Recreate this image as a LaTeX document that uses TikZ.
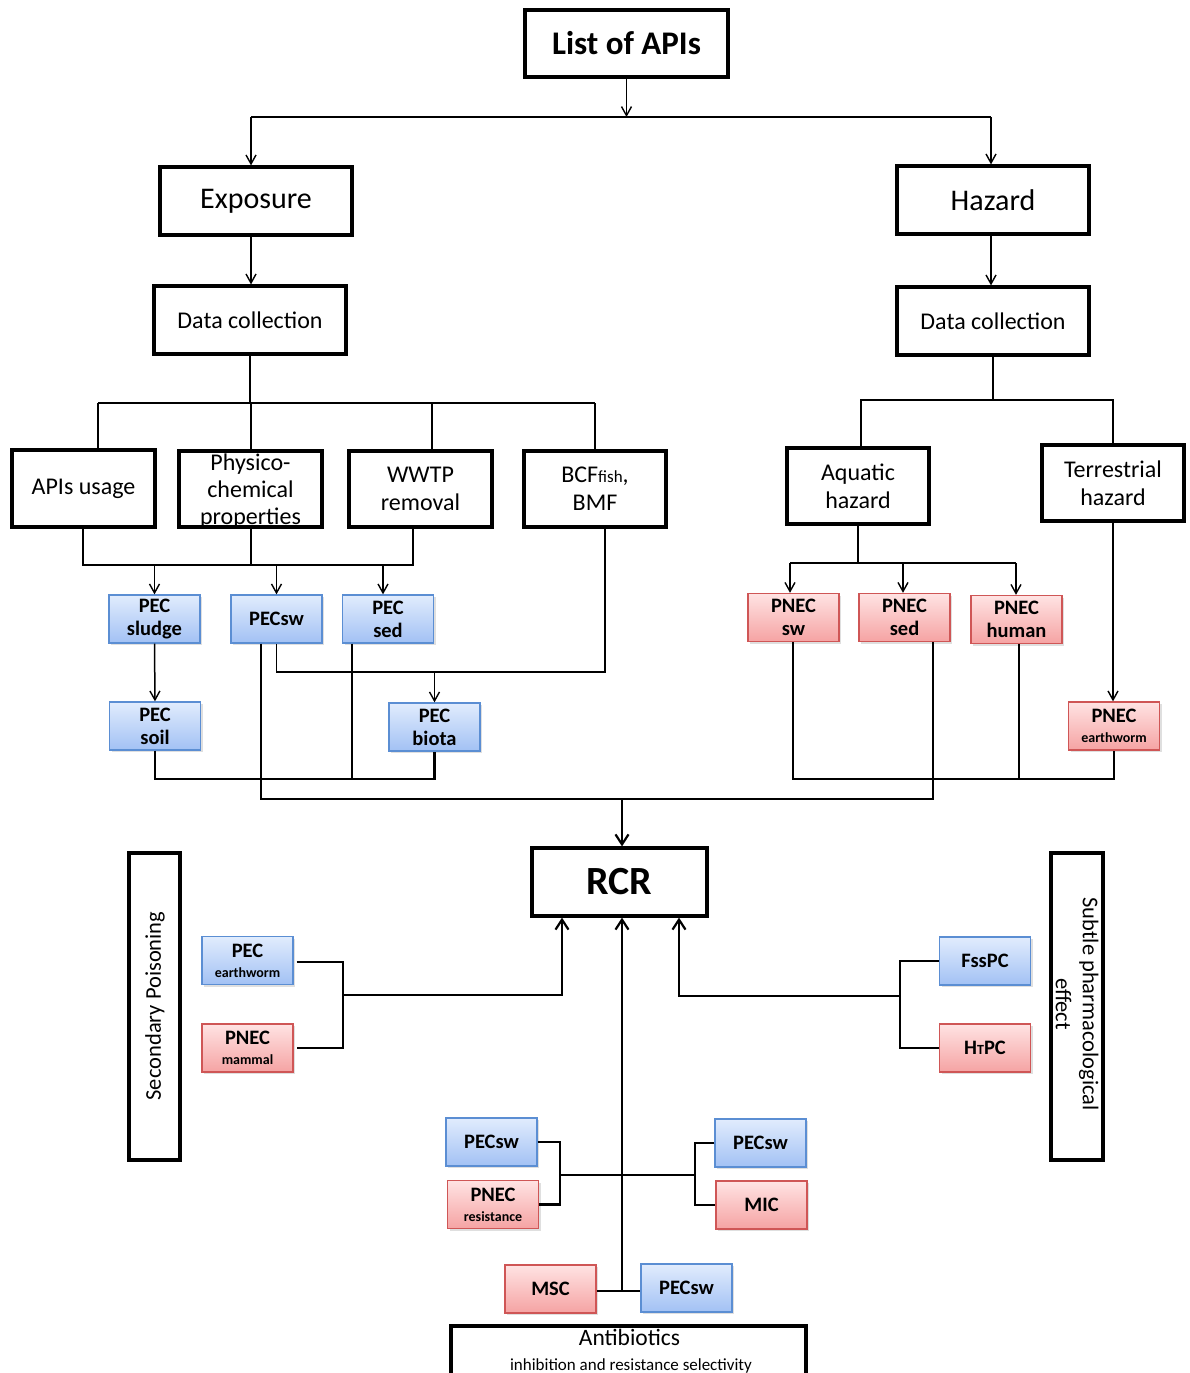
\documentclass[tikz,border=0pt]{standalone}
\usepackage{fontspec}
\setmainfont{Carlito}
\usetikzlibrary{arrows.meta,shadows}
\definecolor{bluetop}{HTML}{E1ECFD}
\definecolor{bluebot}{HTML}{A2C1F4}
\definecolor{blueline}{HTML}{5B8ED3}
\definecolor{redtop}{HTML}{FFE3E3}
\definecolor{redbot}{HTML}{F5A3A3}
\definecolor{redline}{HTML}{CF5656}
\begin{document}
\begin{tikzpicture}[x=1pt,y=-1pt,
  fs/.style 2 args={font=\fontsize{#1}{#2}\selectfont},
  bigbox/.style={draw, line width=3.2pt, inner sep=0pt, align=center},
  smallbox/.style={line width=1.3pt, inner sep=0pt, align=center,
     minimum width=91pt, minimum height=48pt,
     font=\bfseries\fontsize{20.5}{23}\selectfont,
     drop shadow={opacity=0.25,shadow xshift=2pt,shadow yshift=-2pt}},
  bluebox/.style={smallbox, draw=blueline, top color=bluetop, bottom color=bluebot},
  redbox/.style={smallbox, draw=redline, top color=redtop, bottom color=redbot},
  conn/.style={line width=1.5pt},
  tconn/.style={line width=2.4pt},
  arr/.style={-{Straight Barb[length=9pt,width=10pt,line width=1.4pt]}},
  tarr/.style={-{Straight Barb[length=10pt,width=13pt,line width=2.2pt]}}
]
\useasboundingbox (0,0) rectangle (1189,1373);
\clip (0,0) rectangle (1189,1373);

% ---- top boxes
\node[bigbox, minimum width=203pt, minimum height=67pt, font=\bfseries\fontsize{33}{38}\selectfont] (list) at (626.5,43.5) {List of APIs};
\node[bigbox, minimum width=192pt, minimum height=68pt, fs={30}{34}] (expo) at (256,201) {Exposure};
\node[bigbox, minimum width=192pt, minimum height=68pt, fs={30}{34}] (haz) at (993,200) {Hazard};
\node[bigbox, minimum width=192pt, minimum height=68pt, fs={24}{28}] (dcl) at (250,320) {Data collection};
\node[bigbox, minimum width=192pt, minimum height=68pt, fs={24}{28}] (dcr) at (993,321) {Data collection};

% ---- second level
\node[bigbox, minimum width=143pt, minimum height=77pt, fs={24}{28}] (apis) at (83.5,488.5) {APIs usage};
\node[bigbox, minimum width=143pt, minimum height=76pt] (phys) at (250.5,489) {};
\node[fs={24}{27}, align=center, inner sep=0pt] (physt) at (250.5,491) {Physico-\\chemical\\properties};
\node[bigbox, minimum width=143pt, minimum height=76pt, fs={24}{28}] (wwtp) at (420.5,489) {WWTP\\removal};
\node[bigbox, minimum width=142pt, minimum height=76pt, fs={24}{28}] (bcf) at (595,489) {BCF{\fontsize{17}{20}\selectfont fish},\\BMF};
\node[bigbox, minimum width=142pt, minimum height=76pt, fs={24}{28}] (aqua) at (858,486) {Aquatic\\hazard};
\node[bigbox, minimum width=142pt, minimum height=76pt, fs={24}{28}] (terr) at (1113,483) {Terrestrial\\hazard};

% ---- PEC / PNEC boxes
\node[bluebox] (sludge) at (154.5,619) {PEC\\sludge};
\node[bluebox] (pecsw) at (276.5,619) {PECsw};
\node[bluebox] (sed) at (388,619) {PEC\\sed};
\node[bluebox] (soil) at (155,726) {PEC\\soil};
\node[bluebox] (biota) at (434.5,727) {PEC\\biota};
\node[redbox] (pnsw) at (793.5,617.5) {PNEC\\sw};
\node[redbox] (pnsed) at (904.5,617.5) {PNEC\\sed};
\node[redbox] (pnhum) at (1016.5,619.5) {PNEC\\human};
\node[redbox] (pnew) at (1114,726) {PNEC\\[-3pt]{\fontsize{14}{15}\selectfont earthworm}};

% ---- RCR and side panels
\node[bigbox, minimum width=175pt, minimum height=68pt, font=\bfseries\fontsize{40}{44}\selectfont] (rcr) at (619.5,882) {RCR};
\node[bigbox, minimum width=51pt, minimum height=307pt] (secp) at (154.5,1006.5) {};
\node[rotate=90, fs={22.5}{26}, inner sep=0pt] (secpt) at (155,1006) {Secondary Poisoning};
\node[bigbox, minimum width=52pt, minimum height=307pt] (subt) at (1077,1006.5) {};
\node[rotate=-90, fs={22.5}{27}, align=center, inner sep=0pt] (subtt) at (1077,1004) {Subtle pharmacological\\effect};

\node[bluebox] (pecew) at (247.5,960.5) {PEC\\[-3pt]{\fontsize{14}{15}\selectfont earthworm}};
\node[redbox] (pnmam) at (247.5,1048) {PNEC\\[-3pt]{\fontsize{14}{15}\selectfont mammal}};
\node[bluebox] (fss) at (985,961) {FssPC};
\node[redbox] (htpc) at (985,1048) {H{\fontsize{14}{16}\selectfont T}PC};

\node[bluebox] (pecsw2) at (491.5,1142) {PECsw};
\node[redbox] (pnres) at (493,1204.5) {PNEC\\[-3pt]{\fontsize{14}{15}\selectfont resistance}};
\node[bluebox] (pecsw3) at (760.5,1143) {PECsw};
\node[redbox] (mic) at (761.5,1205) {MIC};
\node[redbox] (msc) at (550.5,1289) {MSC};
\node[bluebox] (pecsw4) at (686.5,1288) {PECsw};

\node[bigbox, minimum width=355pt, minimum height=90pt] (anti) at (628.5,1371) {};
\node[fs={23.5}{27}, inner sep=0pt] (antit) at (629.5,1337) {Antibiotics};
\node[fs={17}{20}, inner sep=0pt] (antis) at (631,1366) {inhibition and resistance selectivity};

% ---- top connectors
\coordinate (j1) at (626.5,117);
\coordinate (jl) at (251,117);
\coordinate (jr) at (991,117);
\draw[conn,arr] (list.south) -- (j1);
\draw[conn] (jl) -- (jr);
\draw[conn,arr] (jl) -- (jl |- expo.north);
\draw[conn,arr] (jr) -- (jr |- haz.north);
\draw[conn,arr] (expo.south -| jl) -- (jl |- dcl.north);
\draw[conn,arr] (haz.south -| jr) -- (jr |- dcr.north);

% ---- exposure tree
\coordinate (t1) at (98,403);
\coordinate (t2) at (251,403);
\coordinate (t3) at (432,403);
\coordinate (t4) at (595,403);
\draw[conn] (dcl.south) -- (dcl.south |- t1);
\draw[conn] (t1) -- (t4);
\draw[conn] (t1) -- (t1 |- apis.north);
\draw[conn] (t2) -- (t2 |- phys.north);
\draw[conn] (t3) -- (t3 |- wwtp.north);
\draw[conn] (t4) -- (bcf.north);

\coordinate (b1) at (83,565);
\coordinate (b2) at (251,565);
\coordinate (b3) at (413,565);
\coordinate (b4) at (383,565);
\draw[conn] (b1 |- apis.south) -- (b1) -- (b3) -- (b3 |- wwtp.south);
\draw[conn] (b2 |- phys.south) -- (b2);
\draw[conn,arr] (b1 -| sludge.north) -- (sludge.north);
\draw[conn,arr] (b1 -| pecsw.north) -- (pecsw.north);
\draw[conn,arr] (b4) -- (b4 |- sed.north);
\draw[conn,arr] (sludge.south) -- (soil.north);

\coordinate (c1) at (605,672);
\draw[conn] (c1 |- bcf.south) -- (c1) -- (c1 -| pecsw.south) -- (pecsw.south);
\draw[conn,arr] (c1 -| biota.north) -- (biota.north);

\coordinate (d1) at (155,779);
\coordinate (d2) at (352,779);
\draw[tconn] (soil.south) -- (d1) -- (d1 -| biota.south) -- (biota.south);
\draw[tconn] (d2 |- sed.south) -- (d2);

\coordinate (e1) at (261,799);
\coordinate (e2) at (933,799);
\coordinate (e3) at (622,799);
\draw[tconn] (e1 |- pecsw.south) -- (e1) -- (e2) -- (e2 |- pnsed.south);
\draw[tconn,tarr] (e3) -- (e3 |- rcr.north);

% ---- hazard tree
\coordinate (r1) at (861,400);
\coordinate (r2) at (1113,400);
\draw[conn] (dcr.south) -- (dcr.south |- r1);
\draw[conn] (r1 |- aqua.north) -- (r1) -- (r2) -- (r2 |- terr.north);
\coordinate (s1) at (790,563);
\coordinate (s2) at (903,563);
\coordinate (s3) at (1016,563);
\draw[conn] (aqua.south) -- (aqua.south |- s1);
\draw[conn] (s1) -- (s3);
\draw[conn,arr] (s1) -- (s1 |- pnsw.north);
\draw[conn,arr] (s2) -- (s2 |- pnsed.north);
\draw[conn,arr] (s3) -- (s3 |- pnhum.north);
\draw[conn,arr] (terr.south) -- (terr.south |- pnew.north);

\coordinate (f1) at (793,779);
\coordinate (f2) at (1019,779);
\draw[tconn] (f1 |- pnsw.south) -- (f1) -- (f1 -| pnew.south) -- (pnew.south);
\draw[tconn] (f2 |- pnhum.south) -- (f2);

% ---- lower connectors
\coordinate (g1) at (343,995);
\coordinate (g2) at (562,995);
\coordinate (ga) at (343,962);
\coordinate (gb) at (343,1048);
\draw[tconn] ([xshift=3pt]pecew.east |- ga) -- (ga) -- (gb) -- ([xshift=3pt]pnmam.east |- gb);
\draw[tconn,tarr] (g1) -- (g2) -- (g2 |- rcr.south);

\coordinate (h1) at (900,996);
\coordinate (h2) at (679,996);
\draw[tconn] (fss.west) -- (fss.west -| h1) -- (h1 |- htpc.west) -- (htpc.west);
\draw[tconn,tarr] (h1) -- (h2) -- (h2 |- rcr.south);

\coordinate (k1) at (560,1175);
\coordinate (k2) at (695,1175);
\draw[tconn] (pecsw2.east) -- (pecsw2.east -| k1) -- (k1 |- pnres.east) -- (pnres.east);
\draw[tconn] (pecsw3.west) -- (pecsw3.west -| k2) -- (k2 |- mic.west) -- (mic.west);
\draw[tconn] (k1) -- (k2);

\coordinate (m1) at (622,1291);
\draw[tconn] (msc.east |- m1) -- (pecsw4.west |- m1);
\draw[tconn,tarr] (m1) -- (m1 |- rcr.south);
\end{tikzpicture}
\end{document}
